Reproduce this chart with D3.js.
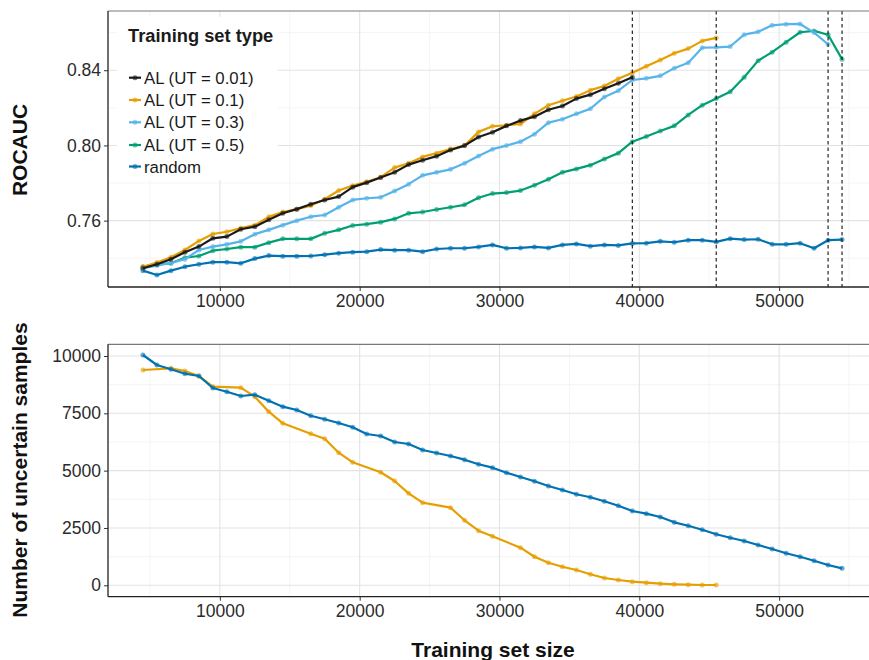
<!DOCTYPE html>
<html><head><meta charset="utf-8">
<script src="https://cdn.jsdelivr.net/npm/d3@7"></script>
<style>
body{margin:0;background:#fff;}
text{font-family:"Liberation Sans",Arial,Helvetica,sans-serif;}
</style></head><body>
<svg id="chart" width="869" height="660"></svg>
<script>
// ---- data ----
const sizes = [4500,5500,6500,7500,8500,9500,10500,11500,12500,13500,14500,15500,16500,17500,18500,19500,
  20500,21500,22500,23500,24500,25500,26500,27500,28500,29500,30500,31500,32500,33500,34500,35500,36500,
  37500,38500,39500,40500,41500,42500,43500,44500,45500,46500,47500,48500,49500,50500,51500,52500,53500,54500];

const seriesNames = ["AL (UT = 0.01)","AL (UT = 0.1)","AL (UT = 0.3)","AL (UT = 0.5)","random"];
const seriesColors = ["#1a1a1a","#E69F00","#56B4E9","#009E73","#0072B2"];

const rocAL001 = [0.7347,0.7368,0.7395,0.7432,0.7462,0.7506,0.7515,0.7554,0.7568,0.7605,0.7639,0.7661,0.7687,0.7710,0.7728,0.7778,
  0.7802,0.7829,0.7857,0.7898,0.7921,0.7943,0.7976,0.7999,0.8045,0.8070,0.8104,0.8132,0.8153,0.8190,0.8210,0.8249,0.8270,
  0.8301,0.8331,0.8363];
const rocAL01 = [0.7355,0.7377,0.7405,0.7444,0.7492,0.7529,0.7541,0.7560,0.7576,0.7620,0.7646,0.7661,0.7680,0.7714,0.7760,0.7786,
  0.7807,0.7831,0.7882,0.7905,0.7939,0.7959,0.7981,0.7999,0.8072,0.8102,0.8107,0.8114,0.8168,0.8214,0.8238,0.8260,0.8294,
  0.8316,0.8355,0.8387,0.8421,0.8455,0.8490,0.8515,0.8556,0.8572];
const rocAL03 = [0.7347,0.7361,0.7375,0.7395,0.7444,0.7462,0.7474,0.7490,0.7528,0.7551,0.7576,0.7600,0.7621,0.7630,0.7671,0.7710,
  0.7719,0.7724,0.7758,0.7794,0.7841,0.7857,0.7873,0.7905,0.7944,0.7980,0.7999,0.8020,0.8060,0.8121,0.8139,0.8168,0.8195,
  0.8258,0.8291,0.8348,0.8357,0.8370,0.8411,0.8440,0.8520,0.8522,0.8526,0.8589,0.8604,0.8639,0.8645,0.8646,0.8600,0.8538];
const rocAL05 = [0.7355,0.7368,0.7373,0.7403,0.7412,0.7440,0.7449,0.7459,0.7459,0.7483,0.7503,0.7503,0.7503,0.7533,0.7551,0.7574,
  0.7581,0.7592,0.7609,0.7639,0.7646,0.7659,0.7671,0.7684,0.7722,0.7744,0.7749,0.7760,0.7788,0.7820,0.7857,0.7875,0.7895,
  0.7928,0.7959,0.8020,0.8047,0.8077,0.8104,0.8162,0.8214,0.8249,0.8286,0.8363,0.8451,0.8496,0.8549,0.8602,0.8609,0.8589,0.8459];
const rocRandom = [0.7334,0.7311,0.7334,0.7355,0.7368,0.7379,0.7379,0.7373,0.7398,0.7414,0.7411,0.7411,0.7412,0.7419,0.7427,0.7432,
  0.7435,0.7446,0.7443,0.7443,0.7435,0.7449,0.7453,0.7453,0.7460,0.7471,0.7453,0.7455,0.7460,0.7455,0.7471,0.7476,0.7464,
  0.7471,0.7468,0.7479,0.7480,0.7490,0.7485,0.7496,0.7496,0.7487,0.7504,0.7499,0.7501,0.7474,0.7474,0.7480,0.7453,0.7496,0.7499];

const uncAL01 = [9389,null,9464,9346,9128,8661,null,8618,8225,7571,7065,null,6611,6393,5783,5364,
  null,4928,4549,4012,3602,null,3384,2835,2381,2137,null,1640,1247,986,811,667,480,
  318,231,157,113,70,44,26,13,13];
const uncRandom = [10044,9607,9420,9228,9128,8604,8443,8256,8312,8051,7789,7645,7396,7239,7078,6891,
  6598,6511,6249,6162,5901,5770,5639,5478,5277,5129,4911,4723,4536,4331,4156,3969,3838,
  3663,3471,3240,3123,2979,2747,2599,2425,2224,2076,1932,1758,1583,1396,1247,1073,885,741];

const cutoffSizes = [39500,45500,53500,54500];

const xTicks = [10000,20000,30000,40000,50000];
const xMinor = [5000,15000,25000,35000,45000,55000];
const rocTicks = [0.76,0.80,0.84];
const rocMinor = [0.74,0.78,0.82,0.86];
const uncTicks = [0,2500,5000,7500,10000];
const uncMinor = [1250,3750,6250,8750];

// ---- layout ----
const svg = d3.select("#chart");
const x = d3.scaleLinear().domain([2000,57000]).range([108,877]);
const yTop = d3.scaleLinear().domain([0.7247,0.8715]).range([287,11]);
const yBot = d3.scaleLinear().domain([-497,10510]).range([596.7,344.3]);

function panel(y, major, minor){
  const top = y.range()[1], bot = y.range()[0];
  const g = svg.append("g");
  g.selectAll(null).data(minor).join("line")
    .attr("x1",108).attr("x2",877).attr("y1",d=>y(d)).attr("y2",d=>y(d))
    .attr("stroke","#f3f3f3").attr("stroke-width",0.8);
  g.selectAll(null).data(xMinor).join("line")
    .attr("y1",top).attr("y2",bot).attr("x1",d=>x(d)).attr("x2",d=>x(d))
    .attr("stroke","#f3f3f3").attr("stroke-width",0.8);
  g.selectAll(null).data(major).join("line")
    .attr("x1",108).attr("x2",877).attr("y1",d=>y(d)).attr("y2",d=>y(d))
    .attr("stroke","#e3e3e3").attr("stroke-width",1.1);
  g.selectAll(null).data(xTicks).join("line")
    .attr("y1",top).attr("y2",bot).attr("x1",d=>x(d)).attr("x2",d=>x(d))
    .attr("stroke","#e3e3e3").attr("stroke-width",1.1);
  return g;
}

function drawAxes(y, major, fmt){
  const top = y.range()[1], bot = y.range()[0];
  const g = svg.append("g");
  g.append("line").attr("x1",108).attr("x2",877).attr("y1",top).attr("y2",top)
    .attr("stroke","#7a7a7a").attr("stroke-width",1.2);
  const ya = g.append("g").attr("transform","translate(108,0)")
    .call(d3.axisLeft(y).tickValues(major).tickFormat(fmt).tickSize(4).tickPadding(3));
  ya.select(".domain").remove();
  g.append("line").attr("x1",108).attr("x2",108).attr("y1",top).attr("y2",bot)
    .attr("stroke","#222").attr("stroke-width",1.3);
  const xa = g.append("g").attr("transform",`translate(0,${bot})`)
    .call(d3.axisBottom(x).tickValues(xTicks).tickFormat(d3.format("d")).tickSize(4).tickPadding(4));
  xa.select(".domain").remove();
  g.append("line").attr("x1",108).attr("x2",877).attr("y1",bot).attr("y2",bot)
    .attr("stroke","#222").attr("stroke-width",1.3);
  g.selectAll(".tick line").attr("stroke","#333").attr("stroke-width",1);
  g.selectAll(".tick text").attr("font-size","17.5px").attr("fill","#2b2b2b")
    .style("font-family","'Liberation Sans',Arial,Helvetica,sans-serif");
}

function drawSeries(y, vals, color){
  const pts = vals.map((v,i)=>({s:sizes[i],v:v})).filter(d=>d.v!==null && d.v!==undefined);
  const line = d3.line().x(d=>x(d.s)).y(d=>y(d.v));
  svg.append("path").datum(pts).attr("d",line).attr("fill","none")
    .attr("stroke",color).attr("stroke-width",2.2).attr("stroke-linejoin","round");
  svg.append("g").selectAll("circle").data(pts).join("circle")
    .attr("cx",d=>x(d.s)).attr("cy",d=>y(d.v)).attr("r",2.5)
    .attr("fill",color).attr("fill-opacity",0.6);
}

// ---- top panel ----
panel(yTop, rocTicks, rocMinor);
svg.append("rect").attr("x",117).attr("y",17).attr("width",161).attr("height",163).attr("fill","#fff");

const topSeries = [rocAL001, rocAL01, rocAL03, rocAL05, rocRandom];
[4,3,2,1,0].forEach(k=>drawSeries(yTop, topSeries[k], seriesColors[k]));

svg.append("g").selectAll("line").data(cutoffSizes).join("line")
  .attr("x1",d=>x(d)).attr("x2",d=>x(d)).attr("y1",11).attr("y2",287)
  .attr("stroke","#111").attr("stroke-width",1.1).attr("stroke-dasharray","3.5,3");

drawAxes(yTop, rocTicks, d3.format(".2f"));

// legend
const lg = svg.append("g");
lg.append("text").attr("x",128).attr("y",42).attr("font-size","18.3px").attr("font-weight","bold")
  .attr("fill","#1a1a1a").text("Training set type");
const rowY = [77.7,100,122.3,145,166.5];
seriesNames.forEach((name,i)=>{
  lg.append("line").attr("x1",129).attr("x2",141).attr("y1",rowY[i]).attr("y2",rowY[i])
    .attr("stroke",seriesColors[i]).attr("stroke-width",2.2);
  lg.append("circle").attr("cx",135).attr("cy",rowY[i]).attr("r",2.5)
    .attr("fill",seriesColors[i]).attr("fill-opacity",0.6);
  lg.append("text").attr("x",144).attr("y",rowY[i]+6).attr("font-size","16.8px")
    .attr("fill","#1a1a1a").text(name);
});

// ---- bottom panel ----
panel(yBot, uncTicks, uncMinor);
drawSeries(yBot, uncAL01, seriesColors[1]);
drawSeries(yBot, uncRandom, seriesColors[4]);
drawAxes(yBot, uncTicks, d3.format("d"));

// axis titles
svg.append("text").attr("transform","translate(27,150) rotate(-90)").attr("text-anchor","middle")
  .attr("font-size","21px").attr("font-weight","bold").attr("fill","#111").text("ROCAUC");
svg.append("text").attr("transform","translate(27,470) rotate(-90)").attr("text-anchor","middle")
  .attr("font-size","21px").attr("font-weight","bold").attr("fill","#111").text("Number of uncertain samples");
svg.append("text").attr("x",493).attr("y",657).attr("text-anchor","middle")
  .attr("font-size","21px").attr("font-weight","bold").attr("fill","#111").text("Training set size");
</script>
</body></html>
